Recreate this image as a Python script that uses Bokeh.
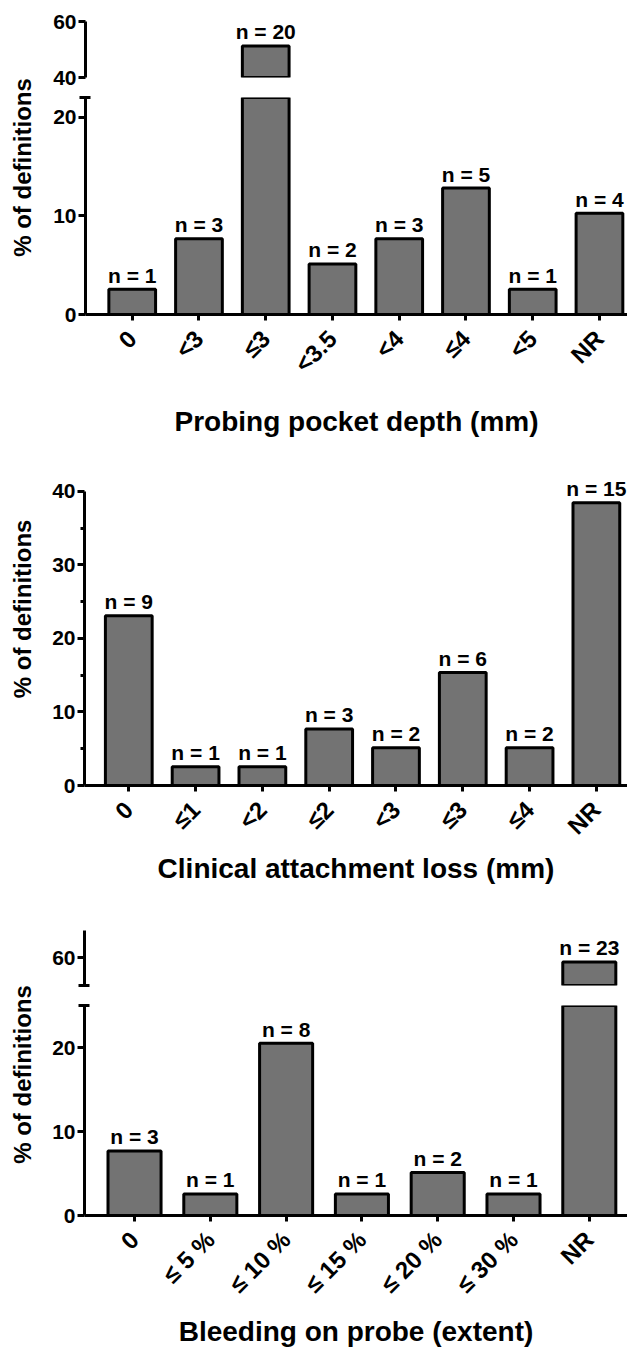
import math
from bokeh.plotting import figure
from bokeh.models import Range1d, FixedTicker, ColumnDataSource
from bokeh.layouts import row, column
from bokeh.embed import file_html
from bokeh.resources import INLINE
from bokeh.core.properties import value

FONT = "Liberation Sans"
BAR_FILL = "#737373"

# ---------------- data ----------------
ppd_categories = ["0", "<3", "≤3", "<3.5", "<4", "≤4", "<5", "NR"]
ppd_counts = [1, 3, 20, 2, 3, 5, 1, 4]
ppd_percent = [2.56, 7.69, 51.28, 5.13, 7.69, 12.82, 2.56, 10.26]
ppd_lower_ticks = [0, 10, 20]
ppd_upper_ticks = [40, 60]

cal_categories = ["0", "≤1", "<2", "≤2", "<3", "≤3", "≤4", "NR"]
cal_counts = [9, 1, 1, 3, 2, 6, 2, 15]
cal_percent = [23.08, 2.56, 2.56, 7.69, 5.13, 15.38, 5.13, 38.46]
cal_ticks = [0, 10, 20, 30, 40]
cal_minor_ticks = [5, 15, 25, 35]

bop_categories = ["0", "≤ 5 %", "≤ 10 %", "≤ 15 %", "≤ 20 %", "≤ 30 %", "NR"]
bop_counts = [3, 1, 8, 1, 2, 1, 23]
bop_percent = [7.69, 2.56, 20.51, 2.56, 5.13, 2.56, 58.97]
bop_lower_ticks = [0, 10, 20]
bop_upper_ticks = [60]

Y_TITLE = "% of definitions"

TITLE_W = 44
MAIN_W = 583


def base_fig(height, x_range, y_range, top, bottom, left, with_x):
    p = figure(width=MAIN_W, height=height, x_range=x_range, y_range=y_range,
               toolbar_location=None, output_backend="svg",
               min_border_left=left, min_border_right=0,
               min_border_top=top, min_border_bottom=bottom,
               x_axis_location="below" if with_x else None,
               y_axis_location="left")
    p.xgrid.visible = False
    p.ygrid.visible = False
    p.outline_line_color = None
    p.background_fill_color = "white"
    p.border_fill_color = "white"
    return p


def style_y(p, ticks, minor=None, minor_in=0, minor_out=0, bounds=None):
    ax = p.yaxis[0]
    ax.ticker = FixedTicker(ticks=ticks, minor_ticks=minor or [])
    ax.axis_line_width = 3
    ax.axis_line_color = "black"
    ax.major_tick_line_width = 3
    ax.major_tick_line_color = "black"
    ax.major_tick_in = 0
    ax.major_tick_out = 7
    ax.minor_tick_line_width = 3
    ax.minor_tick_line_color = "black"
    ax.minor_tick_in = minor_in
    ax.minor_tick_out = minor_out
    ax.major_label_text_font = FONT
    ax.major_label_text_font_style = "bold"
    ax.major_label_text_font_size = "21px"
    ax.major_label_text_color = "black"
    ax.major_label_standoff = 2
    if bounds is not None:
        ax.bounds = bounds


def style_x(p, cats, title, standoff):
    ax = p.xaxis[0]
    ax.ticker = FixedTicker(ticks=list(range(len(cats))))
    ax.major_label_overrides = {i: c for i, c in enumerate(cats)}
    ax.axis_line_width = 3
    ax.axis_line_color = "black"
    ax.major_tick_line_width = 3
    ax.major_tick_line_color = "black"
    ax.major_tick_in = 0
    ax.major_tick_out = 6
    ax.minor_tick_line_color = None
    ax.major_label_orientation = math.pi / 4
    ax.major_label_text_font = FONT
    ax.major_label_text_font_style = "bold"
    ax.major_label_text_font_size = "24px"
    ax.major_label_text_color = "black"
    ax.major_label_standoff = 14
    ax.axis_label = title
    ax.axis_label_text_font = FONT
    ax.axis_label_text_font_style = "bold"
    ax.axis_label_text_font_size = "28px"
    ax.axis_label_text_color = "black"
    ax.axis_label_standoff = standoff


def add_bars(p, cats, pct, keep):
    idx = [i for i in range(len(cats)) if keep(pct[i])]
    src = ColumnDataSource(dict(x=idx, top=[pct[i] for i in idx]))
    p.vbar(x="x", top="top", bottom=0, width=0.7, source=src,
           fill_color=BAR_FILL, line_color="black", line_width=3)


def add_labels(p, cats, pct, counts, keep):
    idx = [i for i in range(len(cats)) if keep(pct[i])]
    src = ColumnDataSource(dict(
        x=idx,
        y=[pct[i] for i in idx],
        lab=["n = %d" % counts[i] for i in idx],
    ))
    p.text(x="x", y="y", text="lab", source=src, text_align="center",
           text_baseline="alphabetic", y_offset=-14,
           text_font=value(FONT), text_font_style="bold",
           text_font_size="21px", text_color="black")


def title_fig(height, cy):
    t = figure(width=TITLE_W, height=height, x_range=Range1d(0, TITLE_W),
               y_range=Range1d(height, 0), toolbar_location=None,
               output_backend="svg", min_border=0,
               x_axis_location=None, y_axis_location=None)
    t.xgrid.visible = False
    t.ygrid.visible = False
    t.outline_line_color = None
    t.text(x=[22], y=[cy], text=[Y_TITLE], angle=math.pi / 2,
           text_align="center", text_baseline="middle",
           text_font=value(FONT), text_font_style="bold",
           text_font_size="24px", text_color="black")
    return t


# ---------------- Panel 1: probing pocket depth (broken axis) ----------------
ppd_break_low, ppd_break_high = 22, 40
x1 = Range1d(-0.70, len(ppd_categories) - 0.58)
u1 = base_fig(87, x1, Range1d(ppd_break_high, 62.2), 15, 10, 41, False)
style_y(u1, ppd_upper_ticks, bounds=(40, 60))
add_bars(u1, ppd_categories, ppd_percent, lambda v: v > ppd_break_high)
add_labels(u1, ppd_categories, ppd_percent, ppd_counts, lambda v: v > ppd_break_high)

l1 = base_fig(353, x1, Range1d(0, ppd_break_low), 10, 118, 41, True)
style_y(l1, ppd_lower_ticks, minor=[ppd_break_low], minor_in=5, minor_out=6)
style_x(l1, ppd_categories, "Probing pocket depth (mm)", 16)
add_bars(l1, ppd_categories, ppd_percent, lambda v: True)
add_labels(l1, ppd_categories, ppd_percent, ppd_counts, lambda v: v <= ppd_break_low)

t1 = title_fig(87 + 353, 167)

# ---------------- Panel 2: clinical attachment loss ----------------
x2 = Range1d(-0.663, len(cal_categories) - 0.534)
p2 = base_fig(447, x2, Range1d(0, 43.1), 28, 95, 40, True)
style_y(p2, cal_ticks, minor=cal_minor_ticks, minor_in=0, minor_out=4, bounds=(0, 40))
style_x(p2, cal_categories, "Clinical attachment loss (mm)", 1)
add_bars(p2, cal_categories, cal_percent, lambda v: True)
add_labels(p2, cal_categories, cal_percent, cal_counts, lambda v: True)

t2 = title_fig(447, 198)

# ---------------- Panel 3: bleeding on probe (broken axis) ----------------
bop_break_low, bop_break_high = 25, 53.4
x3 = Range1d(-0.66, len(bop_categories) - 0.496)
u3 = base_fig(108, x3, Range1d(bop_break_high, 66.4), 43, 10, 40, False)
style_y(u3, bop_upper_ticks, minor=[bop_break_high], minor_in=5, minor_out=6)
add_bars(u3, bop_categories, bop_percent, lambda v: v > bop_break_high)
add_labels(u3, bop_categories, bop_percent, bop_counts, lambda v: v > bop_break_high)

l3 = base_fig(355, x3, Range1d(0, bop_break_low), 10, 123, 40, True)
style_y(l3, bop_lower_ticks, minor=[bop_break_low], minor_in=5, minor_out=6)
style_x(l3, bop_categories, "Bleeding on probe (extent)", 6)
add_bars(l3, bop_categories, bop_percent, lambda v: True)
add_labels(l3, bop_categories, bop_percent, bop_counts, lambda v: v <= bop_break_low)

t3 = title_fig(108 + 355, 187)

layout = column(
    row(t1, column(u1, l1, spacing=0), spacing=0),
    row(t2, p2, spacing=0),
    row(t3, column(u3, l3, spacing=0), spacing=0),
    spacing=0,
)

open("out.html", "w").write(file_html(layout, INLINE))
